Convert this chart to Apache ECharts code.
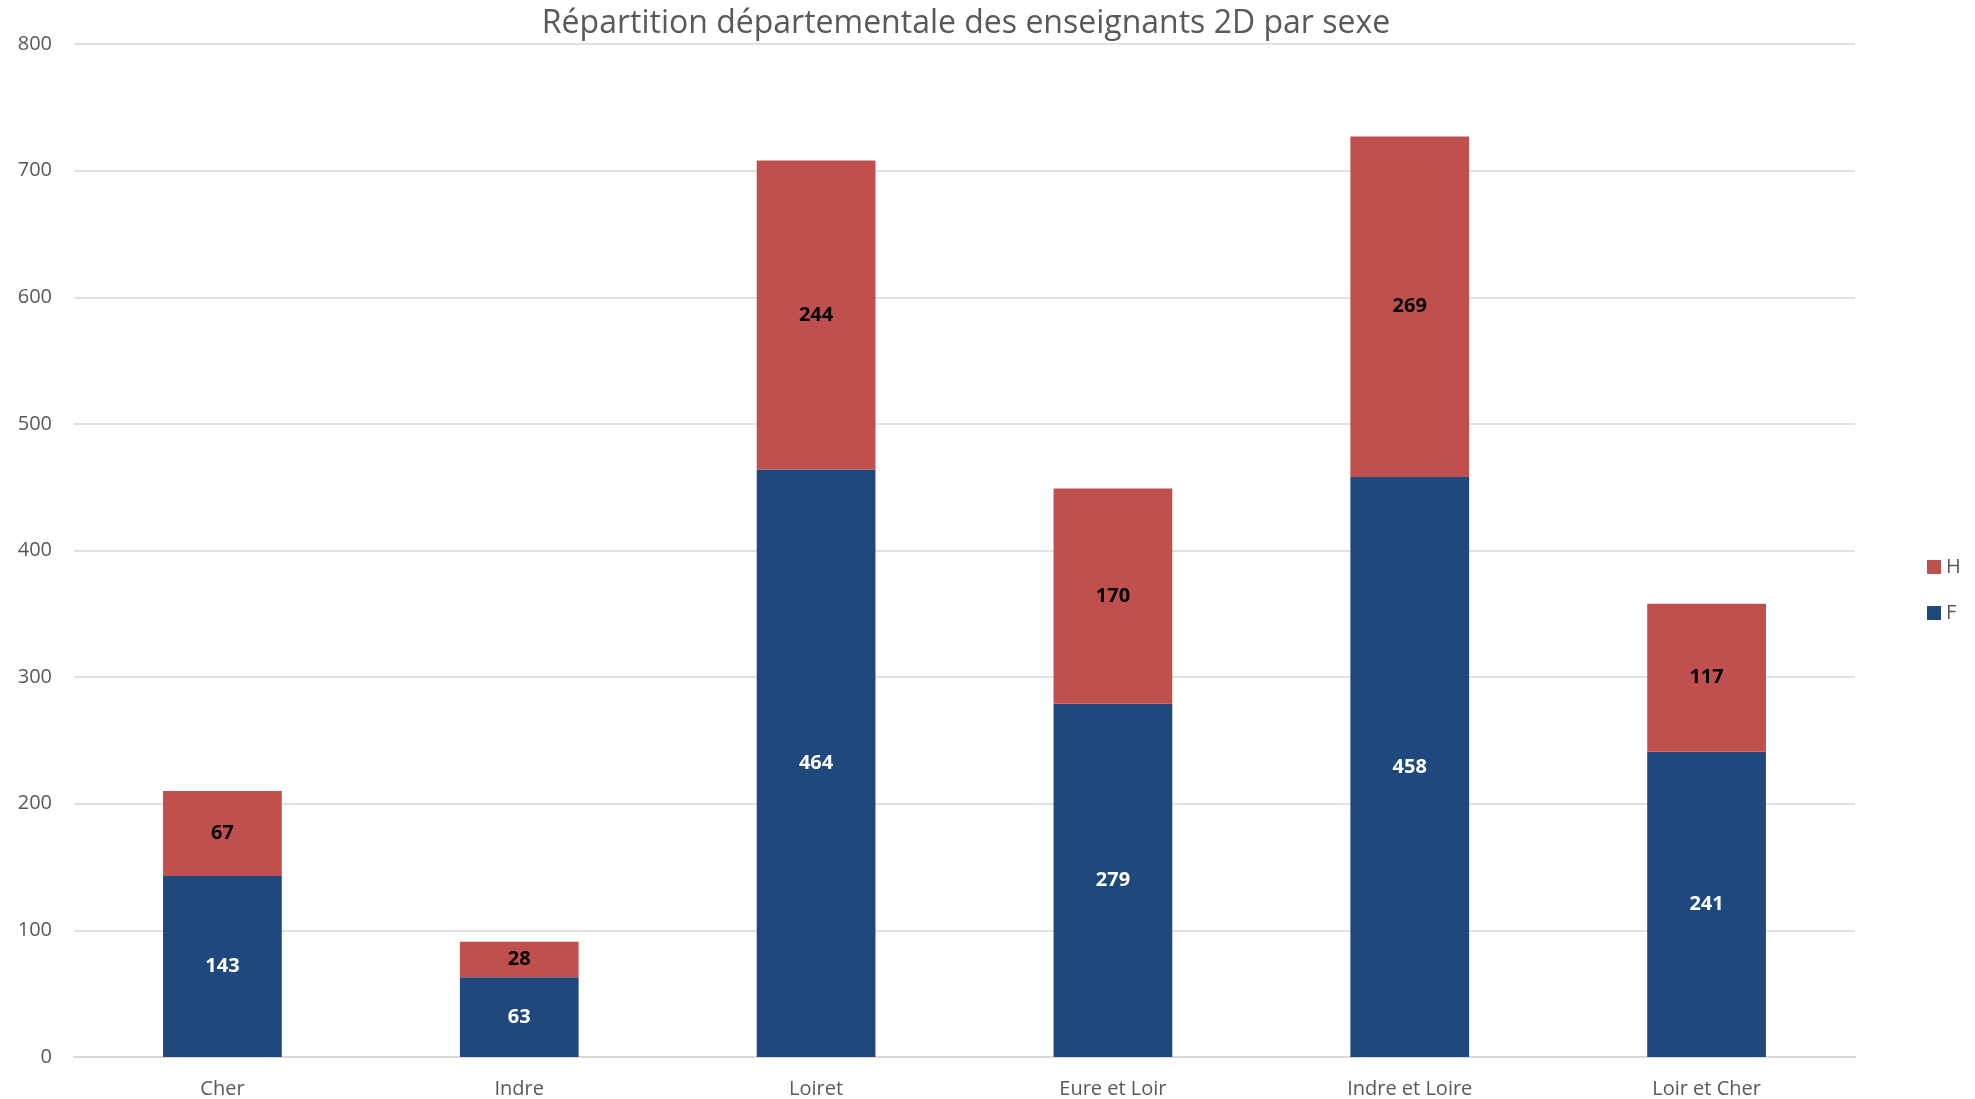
<!DOCTYPE html>
<html><head><meta charset="utf-8">
<script src="https://cdn.jsdelivr.net/npm/echarts@6/dist/echarts.min.js"></script>
<style>html,body{margin:0;padding:0;background:#fff}#c{width:1975px;height:1099px}</style>
</head><body><div id="c"></div>
<script>
const categories = ['Cher', 'Indre', 'Loiret', 'Eure et Loir', 'Indre et Loire', 'Loir et Cher'];
const valuesF = [143, 63, 464, 279, 458, 241];
const valuesH = [67, 28, 244, 170, 269, 117];
const yTicks = [0, 100, 200, 300, 400, 500, 600, 700, 800];

const font = '"Open Sans", "Noto Sans", sans-serif';
const chart = echarts.init(document.getElementById('c'), null, {renderer: 'canvas'});
chart.setOption({
  animation: false,
  backgroundColor: '#fff',
  title: {
    text: 'Répartition départementale des enseignants 2D par sexe',
    left: 961, top: 3, textAlign: 'center',
    textStyle: {fontFamily: font, fontSize: 32, fontWeight: 'normal', color: '#595959'}
  },
  legend: {
    orient: 'vertical', left: 1922, top: 552,
    data: ['H', 'F'],
    icon: 'rect', itemWidth: 14, itemHeight: 14, itemGap: 26,
    textStyle: {fontFamily: font, fontSize: 20, color: '#595959', padding: [0, 0, 0, 0]}
  },
  grid: {left: 74, right: 120, top: 44, bottom: 42, containLabel: false},
  xAxis: {
    type: 'category', data: categories,
    axisLine: {lineStyle: {color: '#d9d9d9', width: 2}},
    axisTick: {show: false},
    axisLabel: {fontFamily: font, fontSize: 20, color: '#595959', margin: 22}
  },
  yAxis: {
    type: 'value', min: yTicks[0], max: yTicks[yTicks.length - 1], interval: 100,
    axisLine: {show: false}, axisTick: {show: false},
    splitLine: {lineStyle: {color: '#d9d9d9', width: 1.5}},
    axisLabel: {fontFamily: font, fontSize: 20, color: '#595959', margin: 22}
  },
  series: [
    {
      name: 'F', type: 'bar', stack: 'total', data: valuesF,
      barWidth: '40%',
      itemStyle: {color: '#1F497D'},
      label: {show: true, position: 'inside', fontFamily: font, fontSize: 20, fontWeight: 'bold', color: '#ffffff'}
    },
    {
      name: 'H', type: 'bar', stack: 'total', data: valuesH,
      barWidth: '40%',
      itemStyle: {color: '#C0504D'},
      label: {show: true, position: 'inside', fontFamily: font, fontSize: 20, fontWeight: 'bold', color: '#000000'}
    }
  ]
});
</script></body></html>
